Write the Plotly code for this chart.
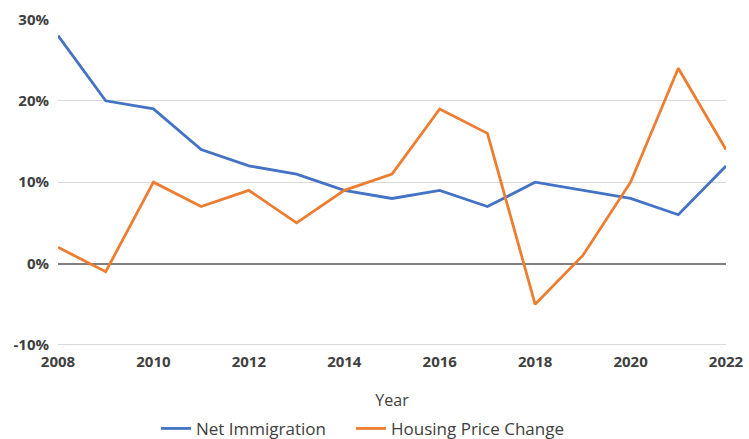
import plotly.graph_objects as go

years = list(range(2008, 2023))
net_immigration = [28, 20, 19, 14, 12, 11, 9, 8, 9, 7, 10, 9, 8, 6, 12]
housing_price_change = [2, -1, 10, 7, 9, 5, 9, 11, 19, 16, -5, 1, 10, 24, 14]
y_ticks = [-10, 0, 10, 20, 30]
y_tick_labels = ["-10%", "0%", "10%", "20%", "30%"]
x_ticks = [2008, 2010, 2012, 2014, 2016, 2018, 2020, 2022]

fig = go.Figure()
fig.add_trace(go.Scatter(x=years, y=net_immigration, mode="lines", name="Net Immigration",
                         line=dict(color="#4472C4", width=2.8), legend="legend"))
fig.add_trace(go.Scatter(x=years, y=housing_price_change, mode="lines", name="Housing Price Change",
                         line=dict(color="#ED7D31", width=2.8), legend="legend2"))

tick_font = dict(size=15, color="#404040", family="Open Sans, sans-serif", weight="bold")
legend_common = dict(orientation="h", xref="container", xanchor="left",
                     yref="container", y=0.023, yanchor="middle",
                     font=dict(size=17, color="#404040"), itemwidth=30,
                     bgcolor="rgba(0,0,0,0)")

fig.update_layout(
    width=749, height=439,
    margin=dict(l=58, r=23, t=19, b=92, autoexpand=False),
    plot_bgcolor="white", paper_bgcolor="white",
    font=dict(family="Open Sans, sans-serif", color="#404040"),
    xaxis=dict(range=[2008, 2022], tickvals=x_ticks, showgrid=False, zeroline=False,
               showline=False, ticks="", automargin=False, ticklabelstandoff=4,
               tickfont=tick_font,
               title=dict(text="Year", font=dict(size=16, color="#404040"), standoff=26)),
    yaxis=dict(range=[-10.25, 30.05], tickvals=y_ticks, ticktext=y_tick_labels,
               showgrid=True, gridcolor="#d9d9d9", gridwidth=1.3,
               zeroline=True, zerolinecolor="#7f7f7f", zerolinewidth=1.6,
               ticks="", ticklabelstandoff=8, automargin=False,
               tickfont=tick_font),
    legend=dict(x=156 / 749, **legend_common),
    legend2=dict(x=351 / 749, **legend_common),
    showlegend=True,
)

fig.write_html("out.html", config={"displayModeBar": False},
               post_script="document.body.style.margin='0';")
